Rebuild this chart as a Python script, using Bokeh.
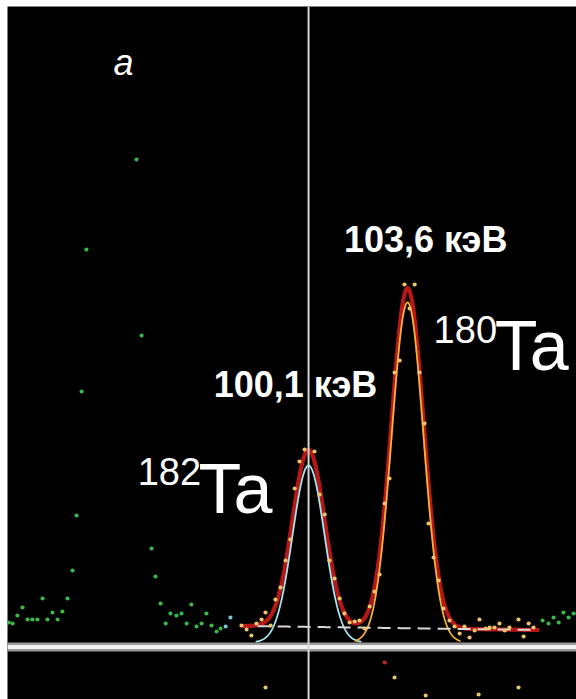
import numpy as np
from bokeh.plotting import figure
from bokeh.models import Range1d, Span
from bokeh.core.properties import value
from bokeh.embed import file_html
from bokeh.resources import INLINE

# ---- spectrum channels outside the fitted window (energy keV, counts) ----
left_e = [89.50, 89.64, 89.81, 89.99, 90.17, 90.34, 90.52, 90.70, 90.87, 91.05,
          91.23, 91.40, 91.58, 91.76, 91.90, 92.08, 92.25, 94.02, 94.20, 94.55,
          94.69, 94.87, 95.05, 95.22, 95.43, 95.61, 95.79, 95.96, 96.14, 96.32,
          96.49, 96.67, 96.85, 96.99]
left_n = [200, 190, 270, 350, 230, 230, 230, 440, 230, 300,
          230, 310, 440, 720, 1270, 2510, 3930, 4830, 3070, 940,
          660, 390, 190, 290, 270, 290, 190, 380, 160, 190,
          290, 170, 110, 140]

edge_e = [97.17, 97.34]
edge_n = [160, 250]

right_e = [108.37, 108.58, 108.76, 108.94, 109.11, 109.29, 109.47]
right_n = [220, 190, 250, 200, 300, 250, 290]

# ---- channels inside the fitted window ----
fit_e = [97.73, 97.91, 98.08, 98.26, 98.44, 98.58, 98.76, 98.93, 99.11, 99.29,
         99.46, 99.61, 99.78, 99.96, 100.31, 100.49, 100.67, 100.84, 101.02, 101.20,
         101.37, 101.55, 101.73, 101.90, 102.08, 102.26, 102.43, 102.61, 102.79, 102.96,
         103.14, 103.32, 103.49, 103.67, 103.85, 104.02, 104.20, 104.34, 104.52, 104.70,
         104.87, 105.08, 105.26, 105.44, 105.61, 105.79, 105.97, 106.14, 106.36, 106.50,
         106.67, 106.85, 107.03, 107.20, 107.52, 107.70, 107.88, 108.05]
fit_n = [170, 130, 70, 190, 230, 300, 170, 430, 550, 820,
         1030, 1540, 1810, 1930, 1910, 1480, 1280, 820, 640, 440,
         290, 200, 210, 220, 140, 360, 510, 680, 1390, 1640,
         2700, 2820, 3580, 3340, 3580, 2700, 2190, 1190, 850, 620,
         340, 220, 160, 90, 160, 50, 120, 230, 140, 150,
         150, 190, 120, 150, 230, 60, 190, 150]

# ---- residuals of the fit ----
res_e = [98.58, 102.79, 103.14, 104.24, 106.11, 107.52]
res_v = [-0.7, 1.8, 0.3, -1.5, -1.4, -0.7]
res_col = ["#e8c46a", "#c0282d", "#e8c46a", "#e8c46a", "#e8c46a", "#e8c46a"]

# ---- fit parameters: two Gaussian lines on a linear background ----
peak_e = [100.1, 103.6]          # keV
peak_amp = [1770, 3400]          # counts
peak_sigma = [0.566, 0.566]      # keV
peak_isotope = ["182", "180"]
bg_lo, bg_hi = 165, 125          # background at the window edges
win_lo, win_hi = 97.73, 108.26   # fitted window, keV


def gauss(x, c, a, s):
    return a * np.exp(-0.5 * ((x - c) / s) ** 2)


def background(x):
    return bg_lo + (bg_hi - bg_lo) * (x - win_lo) / (win_hi - win_lo)


p = figure(width=576, height=699, output_backend="svg", toolbar_location=None,
           x_range=Range1d(89.46, 109.57), y_range=Range1d(-570, 6360),
           x_axis_type=None, y_axis_type=None,
           min_border_left=7, min_border_top=6, min_border_right=0, min_border_bottom=0)
p.background_fill_color = "black"
p.border_fill_color = "white"
p.outline_line_color = None
p.xgrid.visible = False
p.ygrid.visible = False
p.extra_y_ranges = {"resid": Range1d(-1.9, 67.4)}

# total fit
xs = np.linspace(win_lo, win_hi, 700)
total = background(xs) + sum(gauss(xs, c, a, s) for c, a, s in zip(peak_e, peak_amp, peak_sigma))
p.line(xs, total, line_color="#c01818", line_width=4.2, line_alpha=0.95)

# individual components
comp_colors = ["#a8e4ee", "#f4b13a"]
for c, a, s, col in zip(peak_e, peak_amp, peak_sigma, comp_colors):
    xc = np.linspace(c - 3.3 * s, c + 3.3 * s, 300)
    p.line(xc, gauss(xc, c, a, s), line_color=col, line_width=1.8)

# background estimate
xb = np.linspace(98.30, 107.95, 200)
p.line(xb, background(xb), line_color="#d8d8d8", line_width=2, line_dash="13 7")

# data points
p.scatter(left_e, left_n, size=4.2, color="#3cb84a", line_color=None)
p.scatter(right_e, right_n, size=4.2, color="#3cb84a", line_color=None)
p.scatter(edge_e, edge_n, size=4.2, color="#7cc8d8", line_color=None)
p.scatter(fit_e, fit_n, size=4.2, color="#f0c46c", line_color=None)
p.scatter(res_e, res_v, size=4.2, color=res_col, line_color=None, y_range_name="resid")

# separator between spectrum and residual panel
p.add_layout(Span(location=-45, dimension="width", line_color="#9a9a9a", line_width=9))
p.add_layout(Span(location=-45, dimension="width", line_color="#f2f2f2", line_width=4))
# marker at the 182Ta line
p.add_layout(Span(location=peak_e[0], dimension="height", line_color="#d4d4d4", line_width=2))

# energy labels
energy_txt = [f"{c:.1f}".replace(".", ",") + " кэВ" for c in peak_e]
p.text(x=[99.64, 104.24], y=[2580, 4030], text=energy_txt,
       text_font=value("Liberation Sans"), text_font_style="bold",
       text_font_size="36px", text_color="white",
       text_align="center", text_baseline="alphabetic")

# isotope labels
p.text(x=[94.06, 104.52], y=[1714, 3134], text=peak_isotope,
       text_font=value("Liberation Sans"), text_font_size="38px",
       text_color="white", text_align="left", text_baseline="alphabetic")
p.text(x=[96.21, 106.68], y=[1540, 2970], text=["Ta", "Ta"],
       text_font=value("Liberation Sans"), text_font_size="70px",
       text_color="white", text_align="left", text_baseline="alphabetic")

# panel letter
p.text(x=[93.21], y=[5800], text=["a"],
       text_font=value("Liberation Sans"), text_font_style="italic",
       text_font_size="36px", text_color="white",
       text_align="left", text_baseline="alphabetic")

open("out.html", "w").write(file_html(p, INLINE))
